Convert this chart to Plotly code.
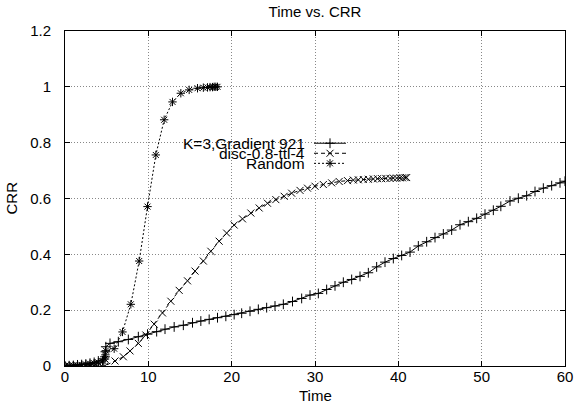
import plotly.graph_objects as go

# ---------------- data ----------------
TITLE = "Time vs. CRR"
X_TITLE = "Time"
Y_TITLE = "CRR"
SERIES_NAMES = ["K=3,Gradient 921", "disc-0.8-ttl-4", "Random"]

grad_t = [0, 0.5, 1, 1.5, 2, 2.5, 3, 3.5, 4, 4.6, 4.8, 4.85, 4.9, 5.4, 6.4, 7.6,
          8.8, 9.9, 11.0, 12.0, 13.1, 14.2, 15.3, 16.3, 17.3, 18.3, 19.3, 20.3,
          21.2, 22.2, 23.2, 24.2, 25.2, 26.2, 27.3, 28.4, 29.4, 30.4, 31.4, 32.4,
          33.4, 34.4, 35.4, 36.4, 37.4, 38.4, 39.4, 40.4, 41.4, 42.4, 43.4, 44.4,
          45.4, 46.4, 47.4, 48.4, 49.4, 50.4, 51.4, 52.3, 53.4, 54.4, 55.4, 56.4,
          57.4, 58.4, 59.4, 60.0]
grad_crr = [0, 0.001, 0.002, 0.004, 0.005, 0.007, 0.010, 0.013, 0.018, 0.025, 0.033,
            0.051, 0.069, 0.081, 0.087, 0.095, 0.105, 0.114, 0.123, 0.132, 0.140,
            0.146, 0.155, 0.161, 0.167, 0.173, 0.178, 0.184, 0.189, 0.196, 0.203,
            0.209, 0.215, 0.221, 0.231, 0.242, 0.254, 0.260, 0.274, 0.287, 0.300,
            0.310, 0.321, 0.334, 0.355, 0.372, 0.385, 0.396, 0.408, 0.430, 0.445,
            0.460, 0.473, 0.487, 0.506, 0.517, 0.529, 0.544, 0.558, 0.572, 0.591,
            0.601, 0.610, 0.625, 0.637, 0.646, 0.656, 0.662]

disc_t = [0, 0.5, 1, 1.5, 2, 2.5, 3, 3.5, 4, 4.8, 6.0, 7.0, 7.8, 8.8, 9.7, 10.7,
          11.7, 12.7, 13.7, 14.7, 15.6, 16.6, 17.5, 18.5, 19.4, 20.3, 21.3, 22.3,
          23.3, 24.3, 25.3, 26.3, 27.2, 28.2, 29.1, 30.0, 31.0, 32.0, 32.9, 33.9,
          34.6, 35.2, 35.8, 36.4, 37.0, 37.5, 38.0, 38.5, 39.0, 39.4, 39.8, 40.2,
          40.5, 40.8, 41.0]
disc_crr = [0, 0, 0, 0, 0, 0, 0, 0, 0, 0.001, 0.018, 0.033, 0.054, 0.081, 0.111,
            0.150, 0.190, 0.232, 0.271, 0.305, 0.340, 0.376, 0.411, 0.447, 0.476,
            0.505, 0.527, 0.548, 0.566, 0.583, 0.596, 0.608, 0.619, 0.629, 0.637,
            0.644, 0.650, 0.656, 0.661, 0.664, 0.666, 0.667, 0.668, 0.669, 0.670,
            0.671, 0.671, 0.672, 0.672, 0.673, 0.673, 0.674, 0.674, 0.675, 0.675]

rand_t = [0, 0.5, 1, 1.5, 2, 2.5, 3, 3.5, 4, 4.5, 4.8, 4.85, 4.9, 5.9, 6.9, 7.9,
          8.9, 9.9, 10.9, 11.9, 12.9, 13.9, 14.9, 15.9, 16.6, 17.1, 17.4, 17.7,
          17.9, 18.1, 18.3]
rand_crr = [0, 0.001, 0.002, 0.003, 0.004, 0.006, 0.008, 0.010, 0.013, 0.018, 0.025,
            0.040, 0.055, 0.062, 0.122, 0.221, 0.376, 0.571, 0.756, 0.882, 0.946,
            0.977, 0.989, 0.995, 0.997, 0.998, 0.999, 0.999, 1.0, 1.0, 1.0]

X_TICKS = [0, 10, 20, 30, 40, 50, 60]
Y_TICKS = [0, 0.2, 0.4, 0.6, 0.8, 1.0, 1.2]
Y_TICK_TEXT = ["0", "0.2", "0.4", "0.6", "0.8", "1", "1.2"]

# ---------------- styling ----------------
FONT = "Liberation Sans, Arial, Helvetica, sans-serif"
styles = [
    dict(dash="solid", symbol="cross-thin"),
    dict(dash="4px,3px", symbol="x-thin"),
    dict(dash="2px,2px", symbol="asterisk-open"),
]
data = [(grad_t, grad_crr), (disc_t, disc_crr), (rand_t, rand_crr)]

fig = go.Figure()
for (xs, ys), st, name in zip(data, styles, SERIES_NAMES):
    fig.add_trace(go.Scatter(
        x=xs, y=ys, mode="lines+markers", name=name, showlegend=False,
        line=dict(color="black", width=1, dash=st["dash"]),
        marker=dict(symbol=st["symbol"], size=7, color="black",
                    line=dict(color="black", width=1)),
    ))

# hand-made legend (text right-aligned, sample to the right) on an overlay axis
leg_text_x = 0.484
leg_line = [0.498, 0.562]
leg_y = [0.665, 0.635, 0.605]
for st, name, ly in zip(styles, SERIES_NAMES, leg_y):
    fig.add_trace(go.Scatter(
        x=leg_line, y=[ly, ly], xaxis="x2", yaxis="y2", mode="lines",
        showlegend=False, hoverinfo="skip",
        line=dict(color="black", width=1, dash=st["dash"]),
    ))
    fig.add_trace(go.Scatter(
        x=[sum(leg_line) / 2], y=[ly], xaxis="x2", yaxis="y2", mode="markers",
        showlegend=False, hoverinfo="skip",
        marker=dict(symbol=st["symbol"], size=7, color="black",
                    line=dict(color="black", width=1)),
    ))
    fig.add_annotation(x=leg_text_x, y=ly, xref="paper", yref="paper",
                       text=name, showarrow=False, xanchor="right",
                       yanchor="middle", font=dict(size=15.5, color="black"))

# axis titles as annotations for exact placement
fig.add_annotation(x=0.5, y=-0.089, xref="paper", yref="paper", text=X_TITLE,
                   showarrow=False, xanchor="center", yanchor="middle",
                   font=dict(size=15, color="black"))
fig.add_annotation(x=-0.108, y=0.5, xref="paper", yref="paper", text=Y_TITLE,
                   showarrow=False, xanchor="center", yanchor="middle",
                   textangle=-90, font=dict(size=15, color="black"))

axis_common = dict(
    showline=True, mirror="ticks", linecolor="black", linewidth=1,
    ticks="inside", ticklen=5, tickcolor="black", automargin=False,
    showgrid=True, gridcolor="#888888", griddash="1px,2px", gridwidth=1,
    zeroline=False, tickfont=dict(size=15, color="black"),
)

fig.update_layout(
    width=574, height=403,
    margin=dict(l=65, r=9, t=31, b=37),
    paper_bgcolor="white", plot_bgcolor="white",
    font=dict(family=FONT, color="black", size=15),
    title=dict(text=TITLE, x=0.5, xanchor="center", y=0.972, yanchor="middle",
               xref="paper", yref="container", font=dict(size=15)),
    xaxis=dict(range=[0, 60], tickvals=X_TICKS, ticktext=[str(v) for v in X_TICKS],
               ticklabelstandoff=-3, **axis_common),
    yaxis=dict(range=[0, 1.2], tickvals=Y_TICKS, ticktext=Y_TICK_TEXT,
               ticklabelstandoff=10, **axis_common),
    xaxis2=dict(range=[0, 1], overlaying="x", visible=False, fixedrange=True),
    yaxis2=dict(range=[0, 1], overlaying="y", visible=False, fixedrange=True),
    showlegend=False,
)

fig.write_html("out.html", config={"displayModeBar": False},
               post_script="document.body.style.margin='0';")
